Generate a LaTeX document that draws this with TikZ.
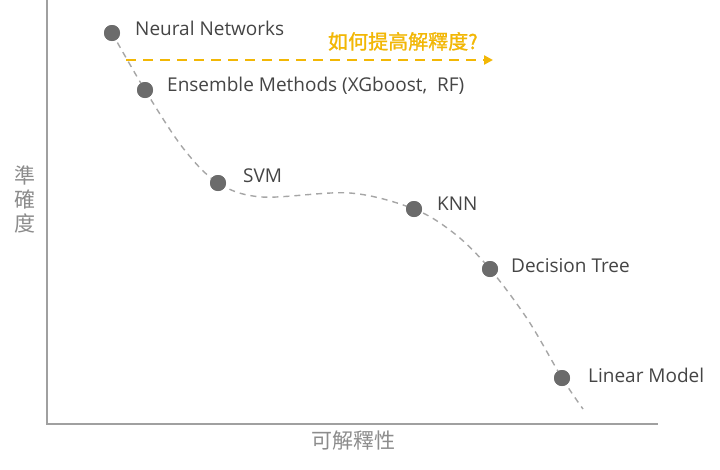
\documentclass[tikz,border=0pt]{standalone}
\usepackage{fontspec}
\setmainfont{Open Sans}
\newfontfamily\cjk{Noto Sans CJK TC}
\newfontfamily\cjkmed[FakeBold=1.2]{Noto Sans CJK TC}
\usetikzlibrary{arrows.meta}
\definecolor{dotgray}{HTML}{6B6B6B}
\definecolor{curvegray}{HTML}{A6A6A6}
\definecolor{axisgray}{HTML}{A0A0A0}
\definecolor{labelgray}{HTML}{8C8C8C}
\definecolor{txtgray}{HTML}{454545}
\definecolor{gold}{HTML}{F2B705}
\begin{document}
\begin{tikzpicture}[x=1pt,y=-1pt,
  dot/.style={circle,fill=dotgray,inner sep=0pt,minimum size=16pt},
  lbl/.style={anchor=base west,inner sep=0pt,text=txtgray,font=\fontsize{19}{22}\selectfont},
  axislbl/.style={text=labelgray,font=\cjk\fontsize{21}{24}\selectfont,inner sep=0pt},
  curve/.style={draw=curvegray,line width=1.4pt,dash pattern=on 6pt off 5pt}]
\useasboundingbox (0,0) rectangle (720,469);
\fill[white] (0,0) rectangle (720,469);
% axes
\coordinate (top) at (47,0);
\coordinate (origin) at (47,424);
\coordinate (xend) at (658,424);
\draw[axisgray,line width=1.6pt] (top) -- (origin) -- (xend);
% dots
\node[dot] (nn) at (112,33) {};
\node[dot] (ens) at (145,90) {};
\node[dot] (svm) at (218,183) {};
\node[dot] (knn) at (414,209) {};
\node[dot] (dt) at (490,269) {};
\node[dot] (lm) at (562,378) {};
\coordinate (c1) at (183,148);
\coordinate (c2) at (262,197);
\coordinate (c3) at (350,193);
\coordinate (c4) at (455,234);
\coordinate (c5) at (528,320);
\coordinate (cend) at (583,409);
\draw[curve] plot[smooth,tension=0.55] coordinates {(nn.center) (ens.center) (c1) (svm.center) (c2) (c3) (knn.center) (c4) (dt.center) (c5) (lm.center) (cend)};
\foreach \n in {nn,ens,svm,knn,dt,lm} \fill[dotgray] (\n) circle (8pt);
% labels
\node[lbl] (tnn) at (135,35) {Neural Networks};
\node[lbl] (tens) at (167,91) {Ensemble Methods (XGboost,\ \ RF)};
\node[lbl] (tsvm) at (243,182) {SVM};
\node[lbl] (tknn) at (437,210) {KNN};
\node[lbl] (tdt) at (511,272) {Decision Tree};
\node[lbl] (tlm) at (588,382) {Linear Model};
% question arrow
\coordinate (qa) at (126,60);
\coordinate (qb) at (493,60);
\draw[gold,line width=2.6pt,dash pattern=on 10pt off 7pt,-{Triangle[length=9pt,width=9pt]}] (qa) -- (qb);
\node[anchor=base west,inner sep=0pt,text=gold,font=\cjkmed\fontsize{20}{24}\selectfont] (q) at (328,49) {如何提高解釋度?};
% axis labels
\node[axislbl] (xl) at (353,441) {可解釋性};
\node[axislbl,align=center] (yl) at (25,199) {準\\確\\度};
\end{tikzpicture}
\end{document}
